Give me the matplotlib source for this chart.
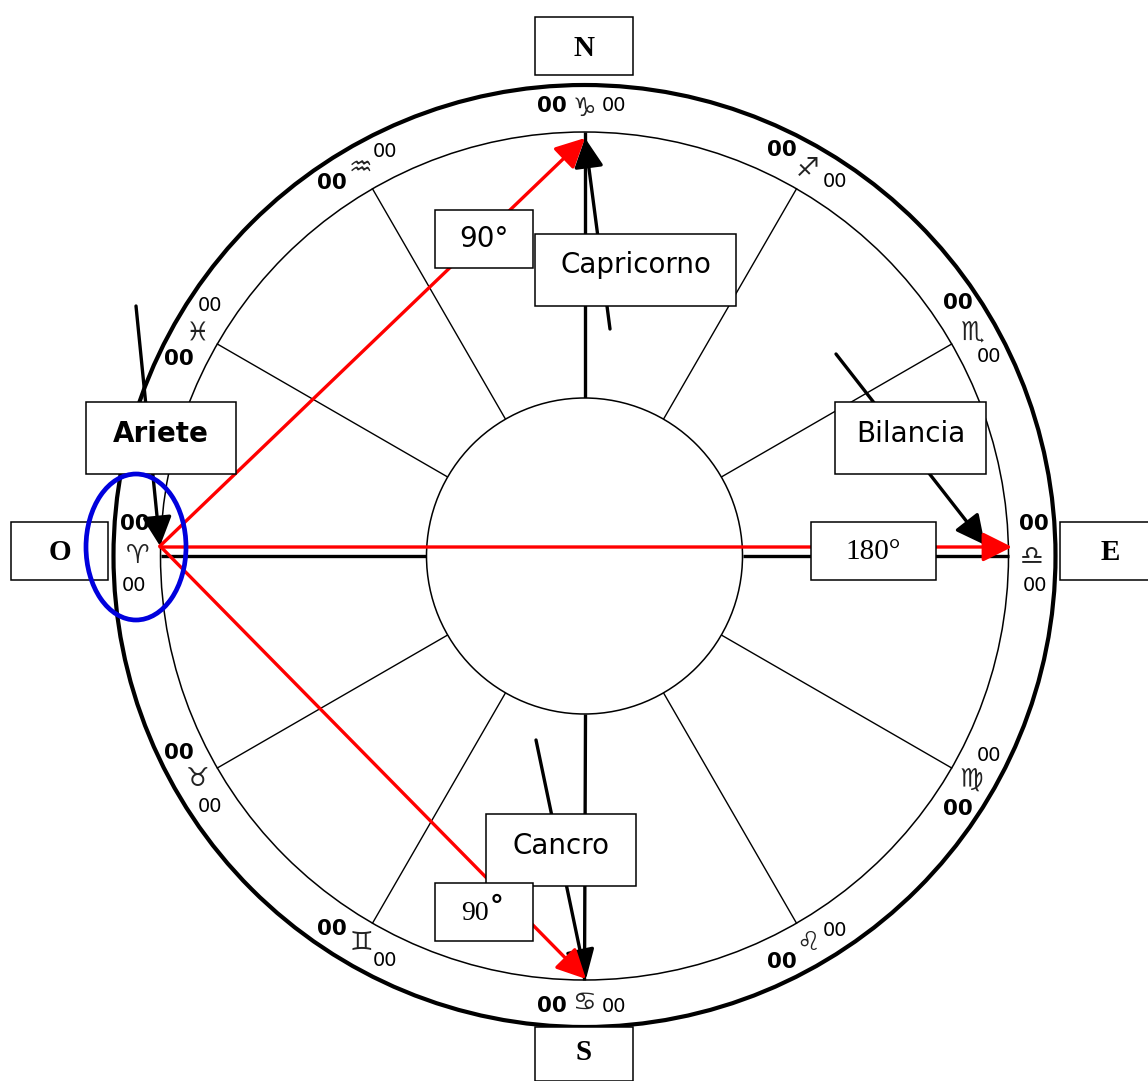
import numpy as np
import matplotlib
matplotlib.use('Agg')
import matplotlib.pyplot as plt
from matplotlib.patches import Circle, Ellipse, Rectangle

# segni zodiacali, angolo in gradi (0 = est, antiorario)
sign_glyphs = ['\u264e', '\u264f', '\u2650', '\u2651', '\u2652', '\u2653',
               '\u2648', '\u2649', '\u264a', '\u264b', '\u264c', '\u264d']
sign_angles = [0, 30, 60, 90, 120, 150, 180, 210, 240, 270, 300, 330]
sign_degrees = ['00'] * 12
sign_minutes = ['00'] * 12
bold_side = [1, 1, 1, 1, 1, 1, -1, -1, -1, -1, -1, -1]

spoke_angles = [30, 60, 120, 150, 210, 240, 300, 330]
axis_angles = [0, 90, 180, 270]

box_text = ['N', 'S', 'O', 'E', 'Ariete', 'Capricorno', 'Bilancia', 'Cancro', '180°']

cx, cy = 584.5, 556
R_out, R_in, R_mid = 471, 424, 158
R_sign = 449


def pol(r, a):
    t = np.deg2rad(a)
    return cx + r * np.cos(t), cy - r * np.sin(t)


fig = plt.figure(figsize=(11.48, 10.81), dpi=100)
ax = fig.add_axes([0, 0, 1, 1])
ax.set_xlim(0, 1148)
ax.set_ylim(1081, 0)
ax.axis('off')

# cerchi e raggi
ax.add_patch(Circle((cx, cy), R_out, fc='white', ec='black', lw=3, zorder=1))
ax.add_patch(Circle((cx, cy), R_in, fc='white', ec='black', lw=1.1, zorder=1))
for a in spoke_angles:
    x0, y0 = pol(R_mid, a)
    x1, y1 = pol(R_in, a)
    ax.plot([x0, x1], [y0, y1], color='black', lw=1.0, zorder=2)
for a in axis_angles:
    x0, y0 = pol(R_mid, a)
    x1, y1 = pol(R_in, a)
    ax.plot([x0, x1], [y0, y1], color='black', lw=2.4, zorder=2, solid_capstyle='butt')
ax.add_patch(Circle((cx, cy), R_mid, fc='white', ec='black', lw=1.1, zorder=3))

# gradi e glifi
for g, a, d, m, s in zip(sign_glyphs, sign_angles, sign_degrees, sign_minutes, bold_side):
    x, y = pol(R_sign - 2, a)
    ax.text(x, y, g, fontsize=19, color='#222222', ha='center', va='center',
            family='DejaVu Sans', zorder=4)
    x, y = pol(R_sign + 2, a + s * 4.1)
    ax.text(x, y, d, fontsize=15.5, fontweight='bold', ha='center', va='center',
            family='DejaVu Sans', zorder=4)
    x, y = pol(R_sign + 2, a - s * 3.8)
    ax.text(x, y, m, fontsize=14, ha='center', va='center',
            family='DejaVu Sans', zorder=4)


def arrow(p0, p1, col, lw, z):
    ax.annotate('', xy=p1, xytext=p0, zorder=z,
                arrowprops=dict(arrowstyle='-|>,head_length=1.0,head_width=0.5',
                                mutation_scale=18, color=col, lw=lw,
                                shrinkA=0, shrinkB=0))


# frecce nere, poi rosse
arrow((136, 306), (160, 546), 'black', 2.4, 5)
arrow((610, 329), (585, 138), 'black', 2.4, 5)
arrow((836, 354), (985, 545), 'black', 2.4, 5)
arrow((536, 740), (586, 979), 'black', 2.4, 5)
arrow((160, 546), (585, 138), 'red', 2.4, 6)
arrow((160, 547), (1012, 547), 'red', 2.4, 6)
arrow((160, 546), (586, 979), 'red', 2.4, 6)


def box(x0, y0, x1, y1, s, dy=-4, **kw):
    ax.add_patch(Rectangle((x0, y0), x1 - x0, y1 - y0, fc='white', ec='black', lw=1.1, zorder=7))
    ax.text((x0 + x1) / 2, (y0 + y1) / 2 + dy, s, ha='center', va='center', zorder=8, **kw)


serif = dict(family='Liberation Serif', fontweight='bold', fontsize=21)
sans = dict(family='DejaVu Sans', fontsize=20)
box(535, 17, 633, 75, box_text[0], dy=2, **serif)
box(535, 1027, 633, 1081, box_text[1], dy=-1, **serif)
box(11, 522, 108, 580, box_text[2], dy=1, **serif)
box(1060, 522, 1160, 580, box_text[3], dy=1, **serif)
box(86, 402, 236, 474, box_text[4], family='DejaVu Sans', fontweight='bold', fontsize=20)
box(535, 234, 736, 306, box_text[5], dy=-5, **sans)
box(835, 402, 986, 474, box_text[6], **sans)
box(486, 814, 636, 886, box_text[7], **sans)
box(811, 522, 936, 580, box_text[8], dy=1, family='Liberation Serif', fontsize=21)
box(435, 210, 533, 268, '90°', dy=0, **sans)
box(435, 883, 533, 941, '', **sans)
ax.text(461, 913, '90', family='Liberation Serif', fontsize=20, ha='left', va='center', zorder=8)
ax.text(490, 907, '°', family='DejaVu Sans', fontweight='bold', fontsize=20, ha='left', va='center', zorder=8)

# ovale blu sull'Ariete
ax.add_patch(Ellipse((136, 547), 100, 146, fc='none', ec='#0000dd', lw=3.4, zorder=9))

fig.savefig('out.png', dpi=100)
